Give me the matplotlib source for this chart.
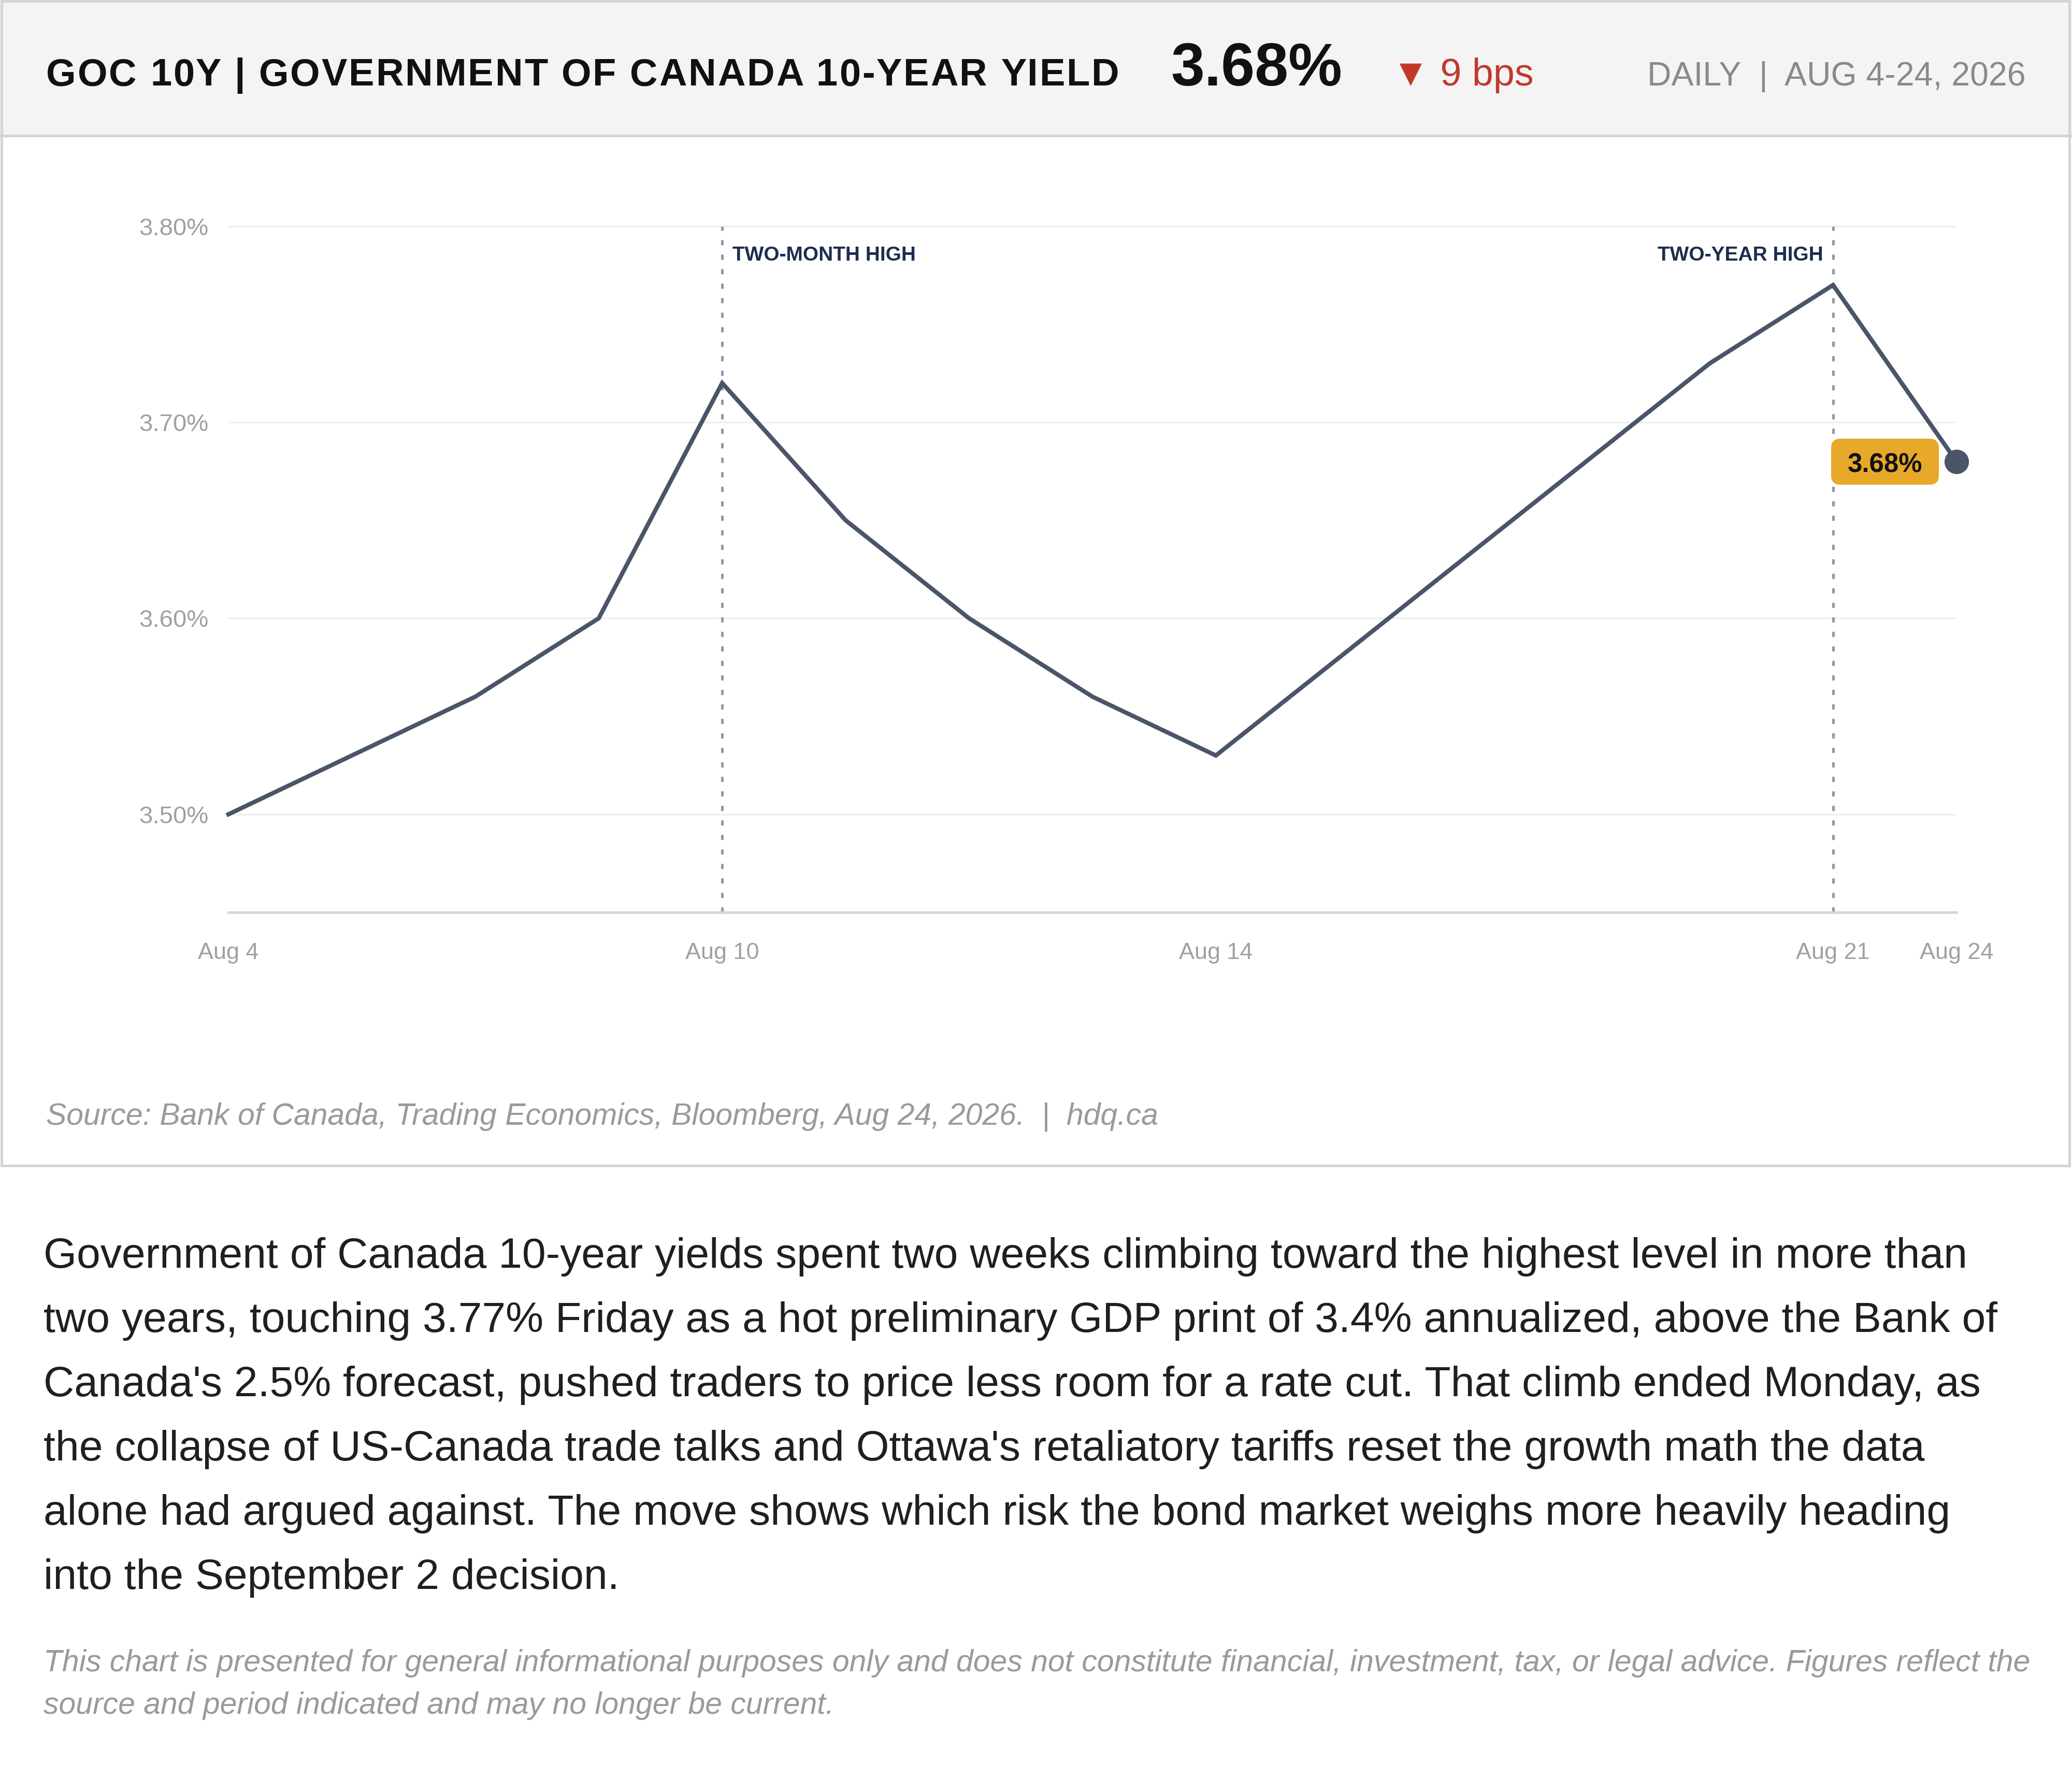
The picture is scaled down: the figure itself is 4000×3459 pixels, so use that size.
import matplotlib
matplotlib.use("Agg")
import matplotlib.pyplot as plt
import matplotlib.transforms as mtransforms
from matplotlib.patches import Rectangle, FancyBboxPatch
from matplotlib.font_manager import FontProperties

plt.rcParams['font.family'] = ['Liberation Sans', 'DejaVu Sans']

# data
dates = ['Aug 4', 'Aug 5', 'Aug 6', 'Aug 7', 'Aug 10', 'Aug 11', 'Aug 12', 'Aug 13',
         'Aug 14', 'Aug 17', 'Aug 18', 'Aug 19', 'Aug 20', 'Aug 21', 'Aug 24']
yields = [3.50, 3.53, 3.56, 3.60, 3.72, 3.65, 3.60, 3.56,
          3.53, 3.58, 3.63, 3.68, 3.73, 3.77, 3.68]
tick_dates = ['Aug 4', 'Aug 10', 'Aug 14', 'Aug 21', 'Aug 24']
y_ticks = [3.50, 3.60, 3.70, 3.80]
events = [('Aug 10', 'TWO-MONTH HIGH'), ('Aug 21', 'TWO-YEAR HIGH')]

W, H = 4000, 3459
DPI = 200
fig = plt.figure(figsize=(W / DPI, H / DPI), dpi=DPI)
fig.patch.set_facecolor('white')
renderer = fig.canvas.get_renderer()


def fy(px):
    return 1 - px / H


def fx(px):
    return px / W


def spaced_text(x_px, y_px, s, spacing_px, size, **kw):
    # letter-spaced text, drawn one glyph at a time
    prop = FontProperties(family=['Liberation Sans', 'DejaVu Sans'], size=size,
                          weight=kw.get('fontweight', 'normal'))
    ref_w = renderer.get_text_width_height_descent('l', prop, ismath=False)[0]
    for i, ch in enumerate(s):
        pre = renderer.get_text_width_height_descent(s[:i] + 'l', prop, ismath=False)[0] - ref_w
        fig.text(fx(x_px + pre + i * spacing_px), fy(y_px), ch, fontproperties=prop,
                 va='baseline', ha='left', color=kw.get('color', 'black'))


# card + header
fig.patches.append(Rectangle((0, fy(262)), 1, 262 / H, transform=fig.transFigure,
                             facecolor='#f4f4f4', edgecolor='none', zorder=0))
fig.patches.append(Rectangle((fx(2.5), fy(2250)), fx(3992), 2247.5 / H, transform=fig.transFigure,
                             facecolor='none', edgecolor='#d4d4d4', lw=1.8, zorder=1))
fig.lines.append(plt.Line2D([0, 1], [fy(262), fy(262)], transform=fig.transFigure,
                            color='#d4d4d4', lw=1.8))

spaced_text(89, 165, 'GOC 10Y | GOVERNMENT OF CANADA 10-YEAR YIELD', 2.9, 26.7,
            fontweight='bold', color='#111111')
fig.text(fx(2260), fy(165), '3.68%', fontsize=42, fontweight='bold', color='#111111',
         va='baseline', ha='left')
fig.text(fx(2687), fy(165), '▼ 9 bps', fontsize=26.5, color='#c0392b', va='baseline', ha='left')
fig.text(fx(3911), fy(165), 'DAILY  |  AUG 4-24, 2026', fontsize=23.2, color='#8a8a8a',
         va='baseline', ha='right')

# chart
ax = fig.add_axes([0.11025, fy(1761), 0.834, (1761 - 361) / H])
x = list(range(len(dates)))
ax.plot(x, yields, color='#4a5568', lw=3.0, solid_joinstyle='miter', zorder=3, clip_on=False)
ax.plot(x[-1], yields[-1], 'o', color='#4a5568', markersize=16, zorder=5, clip_on=False)

ax.set_xlim(0, len(dates) - 1)
ax.set_ylim(3.45, 3.82)
ax.set_yticks(y_ticks)
ax.set_yticklabels([f'{v:.2f}%' for v in y_ticks])
ax.set_xticks([dates.index(d) for d in tick_dates])
ax.set_xticklabels(tick_dates)
ax.tick_params(axis='both', length=0, labelcolor='#a0a0a0')
ax.tick_params(axis='y', pad=14, labelsize=17)
ax.tick_params(axis='x', pad=21, labelsize=16.2)
for v in y_ticks:
    ax.axhline(v, color='#ececec', lw=1.0, zorder=1)
for s in ['top', 'right', 'left']:
    ax.spines[s].set_visible(False)
ax.spines['bottom'].set_color('#d6d6d6')
ax.spines['bottom'].set_linewidth(1.8)

for d, label in events:
    xi = dates.index(d)
    ax.vlines(xi, 3.45, 3.80, colors='#8d99ab', lw=1.8, linestyles=(0, (2, 3.6)), zorder=2)
    if xi < len(dates) - 3:
        ax.annotate(label, (xi, 3.785), xytext=(7, 0), textcoords='offset points',
                    fontsize=14, fontweight='bold', color='#1c2d4f', ha='left', va='center')
    else:
        ax.annotate(label, (xi, 3.785), xytext=(-7, 0), textcoords='offset points',
                    fontsize=14, fontweight='bold', color='#1c2d4f', ha='right', va='center')

# value badge next to the last point (sizes in output pixels)
pt_trans = mtransforms.Affine2D() + mtransforms.ScaledTranslation(x[-1], yields[-1], ax.transData)
ax.add_patch(FancyBboxPatch((-242, -45), 208, 89, boxstyle='round,pad=0,rounding_size=18',
                            transform=pt_trans, facecolor='#e8a82a', edgecolor='none',
                            zorder=4, clip_on=False))
ax.annotate(f'{yields[-1]:.2f}%', (x[-1], yields[-1]), xytext=(-138, -7), textcoords='offset pixels',
            fontsize=18.3, fontweight='bold', color='#111111', ha='center', va='center', zorder=6)

fig.text(fx(89), fy(2171), 'Source: Bank of Canada, Trading Economics, Bloomberg, Aug 24, 2026.  |  hdq.ca',
         fontsize=21.2, style='italic', color='#9a9a9a', va='baseline', ha='left')

para = [
    "Government of Canada 10-year yields spent two weeks climbing toward the highest level in more than",
    "two years, touching 3.77% Friday as a hot preliminary GDP print of 3.4% annualized, above the Bank of",
    "Canada's 2.5% forecast, pushed traders to price less room for a rate cut. That climb ended Monday, as",
    "the collapse of US-Canada trade talks and Ottawa's retaliatory tariffs reset the growth math the data",
    "alone had argued against. The move shows which risk the bond market weighs more heavily heading",
    "into the September 2 decision.",
]
for i, line in enumerate(para):
    fig.text(fx(84), fy(2447 + 124 * i), line, fontsize=29.6, color='#1f1f1f',
             va='baseline', ha='left')

disclaimer = [
    "This chart is presented for general informational purposes only and does not constitute financial, investment, tax, or legal advice. Figures reflect the",
    "source and period indicated and may no longer be current.",
]
for i, line in enumerate(disclaimer):
    fig.text(fx(84), fy(3226 + 82 * i), line, fontsize=21.2, style='italic', color='#9a9a9a',
             va='baseline', ha='left')

fig.savefig('out.png', dpi=DPI, facecolor='white')
